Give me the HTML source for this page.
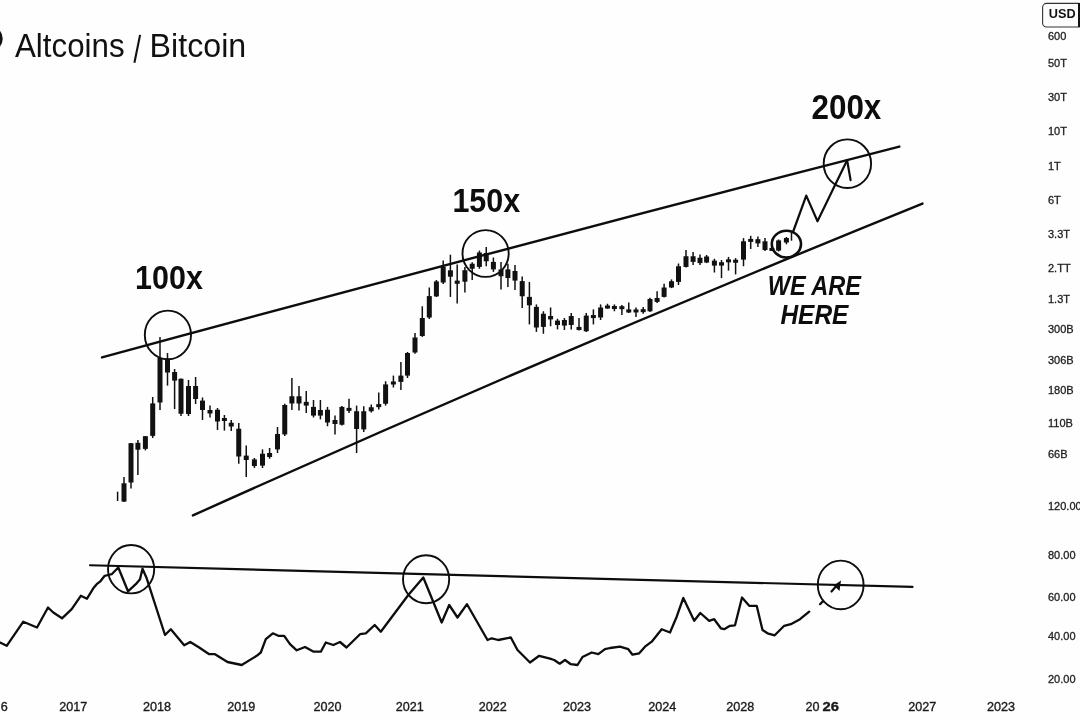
<!DOCTYPE html>
<html><head><meta charset="utf-8"><style>
html,body{margin:0;padding:0;background:#fff;}
body{width:1080px;height:720px;overflow:hidden;position:relative;font-family:"Liberation Sans",sans-serif;}
svg{position:absolute;left:0;top:0;will-change:transform;}
</style></head><body>
<svg width="1080" height="720" viewBox="0 0 1080 720">
<rect width="1080" height="720" fill="#fefefe"/>
<circle cx="-10" cy="38.7" r="12.7" fill="#111"/>
<text x="15.0" y="57.3" font-size="32.69" textLength="109.55" lengthAdjust="spacingAndGlyphs" fill="#111">Altcoins</text>
<text x="149.6" y="57.4" font-size="33.52" textLength="96.59" lengthAdjust="spacingAndGlyphs" fill="#111">Bitcoin</text>
<line x1="134.4" y1="62.8" x2="140.1" y2="34.9" stroke="#111" stroke-width="2.1"/>

<g stroke="#111" stroke-width="1.5" fill="#111">
<line x1="117.60" y1="491.70" x2="117.60" y2="501.00"/>
<line x1="124.00" y1="477.00" x2="124.00" y2="502.00"/>
<rect x="121.50" y="483.30" width="5.0" height="18.30" stroke="none"/>
<line x1="131.00" y1="443.00" x2="131.00" y2="488.60"/>
<rect x="128.50" y="443.20" width="5.0" height="39.30" stroke="none"/>
<line x1="137.90" y1="440.00" x2="137.90" y2="474.90"/>
<rect x="135.40" y="442.80" width="5.0" height="6.90" stroke="none"/>
<line x1="145.40" y1="436.00" x2="145.40" y2="450.40"/>
<rect x="142.90" y="436.20" width="5.0" height="12.70" stroke="none"/>
<line x1="152.70" y1="397.00" x2="152.70" y2="438.00"/>
<rect x="150.20" y="403.40" width="5.0" height="32.50" stroke="none"/>
<line x1="160.00" y1="337.00" x2="160.00" y2="410.00"/>
<rect x="157.50" y="358.00" width="5.0" height="44.50" stroke="none"/>
<line x1="167.50" y1="353.00" x2="167.50" y2="385.60"/>
<rect x="165.00" y="360.00" width="5.0" height="12.50" stroke="none"/>
<line x1="174.60" y1="369.00" x2="174.60" y2="409.00"/>
<rect x="172.10" y="372.00" width="5.0" height="8.60" stroke="none"/>
<line x1="181.00" y1="378.50" x2="181.00" y2="416.00"/>
<rect x="178.50" y="378.75" width="5.0" height="35.00" stroke="none"/>
<line x1="188.50" y1="380.00" x2="188.50" y2="416.00"/>
<rect x="186.00" y="386.00" width="5.0" height="28.00" stroke="none"/>
<line x1="195.60" y1="377.00" x2="195.60" y2="404.00"/>
<rect x="193.10" y="386.00" width="5.0" height="13.00" stroke="none"/>
<line x1="202.50" y1="397.50" x2="202.50" y2="420.00"/>
<rect x="200.00" y="400.60" width="5.0" height="9.40" stroke="none"/>
<line x1="210.00" y1="405.60" x2="210.00" y2="417.50"/>
<rect x="207.50" y="410.00" width="5.0" height="3.50" stroke="none"/>
<line x1="217.50" y1="408.00" x2="217.50" y2="430.00"/>
<rect x="215.00" y="409.75" width="5.0" height="11.75" stroke="none"/>
<line x1="224.40" y1="415.00" x2="224.40" y2="430.60"/>
<rect x="221.90" y="418.00" width="5.0" height="3.00" stroke="none"/>
<line x1="231.25" y1="420.00" x2="231.25" y2="431.00"/>
<rect x="228.75" y="422.75" width="5.0" height="3.75" stroke="none"/>
<line x1="238.75" y1="423.00" x2="238.75" y2="463.75"/>
<rect x="236.25" y="428.75" width="5.0" height="27.75" stroke="none"/>
<line x1="246.25" y1="445.60" x2="246.25" y2="477.00"/>
<rect x="243.75" y="455.60" width="5.0" height="4.40" stroke="none"/>
<line x1="254.40" y1="458.00" x2="254.40" y2="468.00"/>
<rect x="251.90" y="459.40" width="5.0" height="6.60" stroke="none"/>
<line x1="262.50" y1="449.40" x2="262.50" y2="468.00"/>
<rect x="260.00" y="453.75" width="5.0" height="11.85" stroke="none"/>
<line x1="269.60" y1="448.00" x2="269.60" y2="458.75"/>
<rect x="267.10" y="453.00" width="5.0" height="4.00" stroke="none"/>
<line x1="277.50" y1="427.00" x2="277.50" y2="453.00"/>
<rect x="275.00" y="434.00" width="5.0" height="15.40" stroke="none"/>
<line x1="284.75" y1="403.75" x2="284.75" y2="436.00"/>
<rect x="282.25" y="405.00" width="5.0" height="29.40" stroke="none"/>
<line x1="291.90" y1="378.00" x2="291.90" y2="410.00"/>
<rect x="289.40" y="396.25" width="5.0" height="7.25" stroke="none"/>
<line x1="299.00" y1="386.00" x2="299.00" y2="410.60"/>
<rect x="296.50" y="396.25" width="5.0" height="7.25" stroke="none"/>
<line x1="306.25" y1="391.00" x2="306.25" y2="413.00"/>
<rect x="303.75" y="401.90" width="5.0" height="3.70" stroke="none"/>
<line x1="313.50" y1="400.00" x2="313.50" y2="417.50"/>
<rect x="311.00" y="406.90" width="5.0" height="8.70" stroke="none"/>
<line x1="320.40" y1="400.00" x2="320.40" y2="419.40"/>
<rect x="317.90" y="410.00" width="5.0" height="5.60" stroke="none"/>
<line x1="327.50" y1="406.90" x2="327.50" y2="426.25"/>
<rect x="325.00" y="409.75" width="5.0" height="12.75" stroke="none"/>
<line x1="335.00" y1="415.60" x2="335.00" y2="434.40"/>
<rect x="332.50" y="420.00" width="5.0" height="4.00" stroke="none"/>
<line x1="341.90" y1="406.00" x2="341.90" y2="425.60"/>
<rect x="339.40" y="406.90" width="5.0" height="17.85" stroke="none"/>
<line x1="349.00" y1="398.75" x2="349.00" y2="413.00"/>
<rect x="346.50" y="407.88" width="5.0" height="3.00" stroke="none"/>
<line x1="356.60" y1="405.60" x2="356.60" y2="453.00"/>
<rect x="354.10" y="411.25" width="5.0" height="17.75" stroke="none"/>
<line x1="363.75" y1="406.25" x2="363.75" y2="431.90"/>
<rect x="361.25" y="411.25" width="5.0" height="18.15" stroke="none"/>
<line x1="371.25" y1="404.40" x2="371.25" y2="412.50"/>
<rect x="368.75" y="407.25" width="5.0" height="4.00" stroke="none"/>
<line x1="378.75" y1="392.50" x2="378.75" y2="409.40"/>
<rect x="376.25" y="404.12" width="5.0" height="3.00" stroke="none"/>
<line x1="385.60" y1="381.25" x2="385.60" y2="405.60"/>
<rect x="383.10" y="384.40" width="5.0" height="19.35" stroke="none"/>
<line x1="393.40" y1="375.60" x2="393.40" y2="387.50"/>
<rect x="390.90" y="381.50" width="5.0" height="3.00" stroke="none"/>
<line x1="400.90" y1="362.00" x2="400.90" y2="390.00"/>
<rect x="398.40" y="375.60" width="5.0" height="6.30" stroke="none"/>
<line x1="407.50" y1="352.00" x2="407.50" y2="378.00"/>
<rect x="405.00" y="353.00" width="5.0" height="22.60" stroke="none"/>
<line x1="415.00" y1="333.00" x2="415.00" y2="353.75"/>
<rect x="412.50" y="337.50" width="5.0" height="15.00" stroke="none"/>
<line x1="422.30" y1="306.30" x2="422.30" y2="336.90"/>
<rect x="419.80" y="318.00" width="5.0" height="18.00" stroke="none"/>
<line x1="429.30" y1="287.50" x2="429.30" y2="319.00"/>
<rect x="426.80" y="296.10" width="5.0" height="21.40" stroke="none"/>
<line x1="436.40" y1="280.00" x2="436.40" y2="297.00"/>
<rect x="433.90" y="281.40" width="5.0" height="15.00" stroke="none"/>
<line x1="443.20" y1="260.40" x2="443.20" y2="284.00"/>
<rect x="440.70" y="266.80" width="5.0" height="15.70" stroke="none"/>
<line x1="450.40" y1="254.70" x2="450.40" y2="296.90"/>
<rect x="447.90" y="270.30" width="5.0" height="6.40" stroke="none"/>
<line x1="457.20" y1="264.60" x2="457.20" y2="303.40"/>
<rect x="454.70" y="280.60" width="5.0" height="3.20" stroke="none"/>
<line x1="464.90" y1="267.00" x2="464.90" y2="292.40"/>
<rect x="462.40" y="270.20" width="5.0" height="11.50" stroke="none"/>
<line x1="472.20" y1="262.20" x2="472.20" y2="280.10"/>
<rect x="469.70" y="263.75" width="5.0" height="5.00" stroke="none"/>
<line x1="479.40" y1="250.60" x2="479.40" y2="268.75"/>
<rect x="476.90" y="252.50" width="5.0" height="14.40" stroke="none"/>
<line x1="486.25" y1="246.90" x2="486.25" y2="266.25"/>
<rect x="483.75" y="253.00" width="5.0" height="8.25" stroke="none"/>
<line x1="493.40" y1="257.50" x2="493.40" y2="271.90"/>
<rect x="490.90" y="261.90" width="5.0" height="7.50" stroke="none"/>
<line x1="501.00" y1="261.90" x2="501.00" y2="289.40"/>
<rect x="498.50" y="269.40" width="5.0" height="6.85" stroke="none"/>
<line x1="507.90" y1="263.75" x2="507.90" y2="286.90"/>
<rect x="505.40" y="269.40" width="5.0" height="8.60" stroke="none"/>
<line x1="515.00" y1="265.00" x2="515.00" y2="290.00"/>
<rect x="512.50" y="271.00" width="5.0" height="9.60" stroke="none"/>
<line x1="522.20" y1="276.50" x2="522.20" y2="308.10"/>
<rect x="519.70" y="281.10" width="5.0" height="15.15" stroke="none"/>
<line x1="529.40" y1="282.00" x2="529.40" y2="324.40"/>
<rect x="526.90" y="296.90" width="5.0" height="8.40" stroke="none"/>
<line x1="536.40" y1="304.40" x2="536.40" y2="331.90"/>
<rect x="533.90" y="306.90" width="5.0" height="20.60" stroke="none"/>
<line x1="543.40" y1="311.25" x2="543.40" y2="333.75"/>
<rect x="540.90" y="313.75" width="5.0" height="13.15" stroke="none"/>
<line x1="550.60" y1="307.50" x2="550.60" y2="326.25"/>
<rect x="548.10" y="316.00" width="5.0" height="3.40" stroke="none"/>
<line x1="557.50" y1="318.75" x2="557.50" y2="329.40"/>
<rect x="555.00" y="320.60" width="5.0" height="4.40" stroke="none"/>
<line x1="564.40" y1="318.00" x2="564.40" y2="330.00"/>
<rect x="561.90" y="320.00" width="5.0" height="5.60" stroke="none"/>
<line x1="571.25" y1="313.00" x2="571.25" y2="329.40"/>
<rect x="568.75" y="316.00" width="5.0" height="9.00" stroke="none"/>
<line x1="579.00" y1="318.00" x2="579.00" y2="330.50"/>
<rect x="576.50" y="326.90" width="5.0" height="3.10" stroke="none"/>
<line x1="586.25" y1="313.00" x2="586.25" y2="331.90"/>
<rect x="583.75" y="315.60" width="5.0" height="15.65" stroke="none"/>
<line x1="593.40" y1="309.40" x2="593.40" y2="324.40"/>
<rect x="590.90" y="315.05" width="5.0" height="3.00" stroke="none"/>
<line x1="600.60" y1="304.40" x2="600.60" y2="320.00"/>
<rect x="598.10" y="307.50" width="5.0" height="10.00" stroke="none"/>
<line x1="607.50" y1="303.75" x2="607.50" y2="308.75"/>
<rect x="605.00" y="305.50" width="5.0" height="3.00" stroke="none"/>
<line x1="614.40" y1="304.40" x2="614.40" y2="311.25"/>
<rect x="611.90" y="306.00" width="5.0" height="3.00" stroke="none"/>
<line x1="621.90" y1="305.00" x2="621.90" y2="315.00"/>
<rect x="619.40" y="306.18" width="5.0" height="3.00" stroke="none"/>
<line x1="628.75" y1="302.50" x2="628.75" y2="313.00"/>
<rect x="626.25" y="309.40" width="5.0" height="3.10" stroke="none"/>
<line x1="636.00" y1="307.50" x2="636.00" y2="316.90"/>
<rect x="633.50" y="309.45" width="5.0" height="3.00" stroke="none"/>
<line x1="643.20" y1="307.00" x2="643.20" y2="313.75"/>
<rect x="640.70" y="309.15" width="5.0" height="3.00" stroke="none"/>
<line x1="650.00" y1="297.75" x2="650.00" y2="311.90"/>
<rect x="647.50" y="299.00" width="5.0" height="12.25" stroke="none"/>
<line x1="657.10" y1="291.25" x2="657.10" y2="303.10"/>
<rect x="654.60" y="298.00" width="5.0" height="3.90" stroke="none"/>
<line x1="664.10" y1="283.75" x2="664.10" y2="297.50"/>
<rect x="661.60" y="287.50" width="5.0" height="9.40" stroke="none"/>
<line x1="671.50" y1="279.40" x2="671.50" y2="288.10"/>
<rect x="669.00" y="281.25" width="5.0" height="6.25" stroke="none"/>
<line x1="678.50" y1="263.50" x2="678.50" y2="285.00"/>
<rect x="676.00" y="266.25" width="5.0" height="15.65" stroke="none"/>
<line x1="686.00" y1="250.00" x2="686.00" y2="267.50"/>
<rect x="683.50" y="256.25" width="5.0" height="10.65" stroke="none"/>
<line x1="693.10" y1="251.90" x2="693.10" y2="265.00"/>
<rect x="690.60" y="256.25" width="5.0" height="5.65" stroke="none"/>
<line x1="700.00" y1="254.40" x2="700.00" y2="265.00"/>
<rect x="697.50" y="257.75" width="5.0" height="5.35" stroke="none"/>
<line x1="706.60" y1="255.00" x2="706.60" y2="263.10"/>
<rect x="704.10" y="256.50" width="5.0" height="6.00" stroke="none"/>
<line x1="714.40" y1="258.75" x2="714.40" y2="272.50"/>
<rect x="711.90" y="260.60" width="5.0" height="5.00" stroke="none"/>
<line x1="721.50" y1="260.00" x2="721.50" y2="278.10"/>
<rect x="719.00" y="262.25" width="5.0" height="3.35" stroke="none"/>
<line x1="728.50" y1="256.90" x2="728.50" y2="270.60"/>
<rect x="726.00" y="259.32" width="5.0" height="3.00" stroke="none"/>
<line x1="735.60" y1="258.10" x2="735.60" y2="274.40"/>
<rect x="733.10" y="259.75" width="5.0" height="3.00" stroke="none"/>
<line x1="743.50" y1="238.10" x2="743.50" y2="266.25"/>
<rect x="741.00" y="241.30" width="5.0" height="18.30" stroke="none"/>
<line x1="750.70" y1="235.80" x2="750.70" y2="249.00"/>
<rect x="748.20" y="238.90" width="5.0" height="3.00" stroke="none"/>
<line x1="757.90" y1="236.40" x2="757.90" y2="247.00"/>
<rect x="755.40" y="239.20" width="5.0" height="4.20" stroke="none"/>
<line x1="765.00" y1="238.00" x2="765.00" y2="250.90"/>
<rect x="762.50" y="241.30" width="5.0" height="8.70" stroke="none"/>
<line x1="771.90" y1="247.00" x2="771.90" y2="251.00"/>
<rect x="769.40" y="247.90" width="5.0" height="3.00" stroke="none"/>
<line x1="778.60" y1="239.50" x2="778.60" y2="251.50"/>
<rect x="776.10" y="240.40" width="5.0" height="10.20" stroke="none"/>
<line x1="786.40" y1="237.00" x2="786.40" y2="244.30"/>
<rect x="783.90" y="238.00" width="5.0" height="4.50" stroke="none"/>
<line x1="791.50" y1="232.50" x2="791.50" y2="240.70"/>
</g>

<g stroke="#0d0d0d" fill="none" stroke-linecap="round" stroke-linejoin="round">
<path d="M102,357.37 Q500.65,249.26 899.3,146.59" stroke-width="2.4"/>
<path d="M192.9,515.42 Q557.7,351.18 922.5,203.59" stroke-width="2.4"/>
<ellipse cx="167.9" cy="334.9" rx="23.1" ry="24.3" stroke-width="1.9"/>
<ellipse cx="485.6" cy="253.5" rx="23.1" ry="23.4" stroke-width="1.9"/>
<ellipse cx="847.4" cy="163.7" rx="23.7" ry="24.3" stroke-width="1.9"/>
<ellipse cx="786.4" cy="244.1" rx="14.6" ry="13.4" stroke-width="2.6"/>
<polyline points="793,232 806.25,195.6 817.5,221.25 847.1,160.3" stroke-width="2.2"/>
<line x1="847.1" y1="160.3" x2="850.6" y2="180.1" stroke-width="2.2"/>

<line x1="90" y1="565.27" x2="912.5" y2="586.95" stroke-width="2.2"/>
<path d="M0.0,642.5 L6.7,645.8 L23.3,621.7 L37.0,627.5 L48.0,607.5 L53.3,612.5 L62.0,618.3 L71.7,609.2 L80.8,595.8 L87.0,598.7 L93.3,588.3 L96.7,584.2 L100.0,581.7 L104.7,575.8 L108.3,575.0 L111.7,574.2 L118.3,567.5 L128.0,591.3 L135.8,584.2 L140.0,579.2 L142.5,568.7 L146.7,578.3 L165.0,635.0 L170.8,629.2 L184.2,645.3 L190.3,642.0 L199.2,647.5 L209.2,654.2 L215.0,654.2 L227.5,662.0 L241.7,665.0 L256.7,655.8 L260.8,652.5 L265.8,639.2 L272.8,633.3 L278.3,635.8 L284.2,635.8 L290.0,644.2 L296.7,650.3 L305.0,647.0 L313.7,651.7 L320.8,651.7 L325.8,642.5 L333.3,645.0 L340.0,642.0 L346.5,647.5 L360.0,634.2 L365.8,633.3 L374.7,625.0 L380.8,631.7 L408.3,595.0 L423.3,577.5 L441.7,622.5 L449.2,605.0 L457.5,617.5 L467.0,604.2 L487.5,640.0 L491.7,638.3 L498.3,640.0 L510.8,637.5 L517.5,650.0 L530.0,662.5 L539.2,655.8 L550.0,658.7 L554.2,660.0 L559.7,663.7 L565.0,660.0 L570.8,664.2 L577.5,665.0 L582.5,657.0 L591.7,652.5 L598.3,654.2 L605.0,649.2 L610.0,648.0 L620.0,646.7 L628.3,649.2 L632.5,654.7 L639.2,653.3 L645.0,646.7 L651.7,641.7 L661.7,629.2 L670.0,632.5 L676.7,616.7 L683.3,598.0 L694.2,620.8 L700.3,613.0 L709.2,620.8 L714.2,619.2 L720.8,628.3 L724.2,629.2 L730.0,625.8 L735.0,625.3 L742.0,597.5 L749.2,605.8 L756.7,605.8 L762.5,630.0 L767.5,633.3 L774.7,635.3 L784.2,625.8 L790.8,624.2 L800.0,619.2 L809.2,611.7" stroke-width="2.3"/>
<line x1="820" y1="604.2" x2="822.8" y2="601.4" stroke-width="2.2"/>
<ellipse cx="131.1" cy="569.2" rx="23.1" ry="24.2" stroke-width="1.9"/>
<ellipse cx="426.1" cy="579.3" rx="23.1" ry="24" stroke-width="1.9"/>
<ellipse cx="840.7" cy="584.9" rx="22.9" ry="24.3" stroke-width="1.9"/>
<line x1="831.5" y1="591.5" x2="837.5" y2="584.5" stroke-width="2.2"/>
</g>
<polygon points="841,580.5 833.8,585.5 839.5,591" fill="#0d0d0d"/>

<g font-family="Liberation Sans" font-weight="bold" fill="#0d0d0d">
<text x="135.1" y="289.3" font-size="34.11" textLength="67.76" lengthAdjust="spacingAndGlyphs">100x</text>
<text x="452.4" y="212.4" font-size="33.82" textLength="67.82" lengthAdjust="spacingAndGlyphs">150x</text>
<text x="811.5" y="119.3" font-size="34.69" textLength="69.84" lengthAdjust="spacingAndGlyphs">200x</text>
<text x="767.7" y="295.0" font-size="27.42" textLength="93.19" lengthAdjust="spacingAndGlyphs" font-style="italic">WE ARE</text>
<text x="780.4" y="323.9" font-size="27.1" textLength="68.02" lengthAdjust="spacingAndGlyphs" font-style="italic">HERE</text>
</g>

<g font-family="Liberation Sans" font-size="11" fill="#222" stroke="#222" stroke-width="0.3">
<text x="1048" y="39.74">600</text>
<text x="1048" y="67.14">50T</text>
<text x="1048" y="101.24">30T</text>
<text x="1048" y="134.64">10T</text>
<text x="1048" y="170.34">1T</text>
<text x="1048" y="203.94">6T</text>
<text x="1048" y="237.54">3.3T</text>
<text x="1048" y="271.64">2.TT</text>
<text x="1048" y="302.54">1.3T</text>
<text x="1048" y="332.64">300B</text>
<text x="1048" y="364.24">306B</text>
<text x="1048" y="393.94">180B</text>
<text x="1048" y="426.94">110B</text>
<text x="1048" y="457.54">66B</text>
<text x="1048" y="510.24">120.00</text>
<text x="1048" y="559.24">80.00</text>
<text x="1048" y="600.94">60.00</text>
<text x="1048" y="640.44">40.00</text>
<text x="1048" y="682.94">20.00</text>
</g>
<g font-family="Liberation Sans" font-size="12.6" fill="#1a1a1a" stroke="#1a1a1a" stroke-width="0.35">
<text x="4.20" y="710.91" text-anchor="middle">6</text>
<text x="73.30" y="710.91" text-anchor="middle">2017</text>
<text x="157.00" y="710.91" text-anchor="middle">2018</text>
<text x="241.20" y="710.91" text-anchor="middle">2019</text>
<text x="327.50" y="710.91" text-anchor="middle">2020</text>
<text x="409.80" y="710.91" text-anchor="middle">2021</text>
<text x="492.70" y="710.91" text-anchor="middle">2022</text>
<text x="577.00" y="710.91" text-anchor="middle">2023</text>
<text x="662.20" y="710.91" text-anchor="middle">2024</text>
<text x="740.20" y="710.91" text-anchor="middle">2028</text>
<text x="922.20" y="710.91" text-anchor="middle">2027</text>
<text x="1001.10" y="710.91" text-anchor="middle">2023</text>
<text x="805.6" y="710.91">20</text>
<text x="822.6" y="710.91" font-weight="bold" textLength="16.4" lengthAdjust="spacingAndGlyphs">26</text>
</g>

<rect x="1042.6" y="3.4" width="40" height="23.6" rx="4" ry="4" fill="#fcfcfc" stroke="#333" stroke-width="1.1"/>
<rect x="1078" y="3" width="2" height="24" fill="#111"/>
<text x="1048.8" y="17.9" font-size="12.29" textLength="26.82" lengthAdjust="spacingAndGlyphs" fill="#111" font-weight="bold">USD</text>
</svg>
</body></html>
